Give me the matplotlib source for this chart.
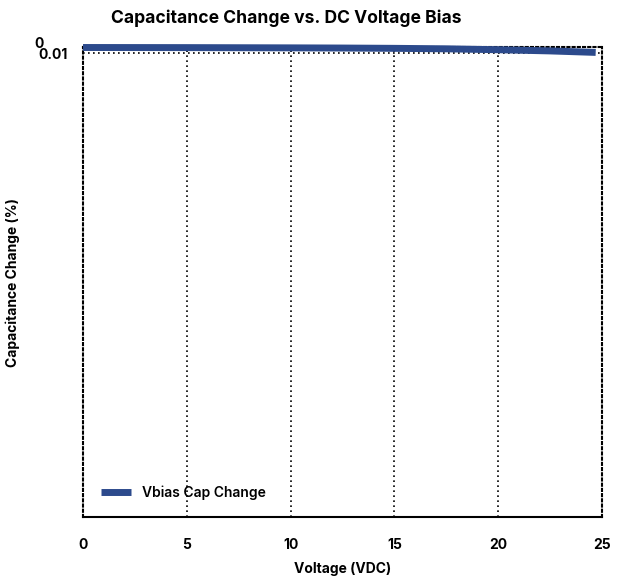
import matplotlib
matplotlib.use("Agg")
import matplotlib.pyplot as plt
import matplotlib.transforms as mtransforms

# capacitance change (magnitude, %) vs DC bias voltage
voltage = [0, 2.5, 5, 7.5, 10, 12.5, 15, 17.5, 20, 22.5, 24.7]
cap_change = [0.0003, 0.0004, 0.0005, 0.0007, 0.0009, 0.0012, 0.0017, 0.0025, 0.0040, 0.0060, 0.0085]

x_ticks = [0, 5, 10, 15, 20, 25]
y_ticks = [0, 0.01]
y_tick_labels = ["0", "0.01"]

LINE_COLOR = "#2c4a8c"

plt.rcParams["font.family"] = ["Inter", "DejaVu Sans"]

fig = plt.figure(figsize=(6.27, 5.77), dpi=100)
ax = fig.add_axes([0.1324, 0.104, 0.8276, 0.8145])

ax.plot(voltage, cap_change, color=LINE_COLOR, linewidth=5,
        solid_capstyle="butt", label="Vbias Cap Change", clip_on=False, zorder=3)

ax.set_xlim(0, 25)
ax.set_ylim(0.785, -0.0005)

ax.set_xticks(x_ticks)
ax.set_yticks(y_ticks)
ax.set_yticklabels(y_tick_labels)
ax.tick_params(axis="both", length=0, labelsize=10)
ax.tick_params(axis="x", pad=15)
ax.tick_params(axis="y", pad=11)
for lbl in ax.get_xticklabels() + ax.get_yticklabels():
    lbl.set_fontweight("bold")
# the "0" label sits up and left of "0.01" like the original
zero_lbl = ax.get_yticklabels()[0]
zero_lbl.set_transform(zero_lbl.get_transform() +
                       mtransforms.ScaledTranslation(-0.24, 0.05, fig.dpi_scale_trans))

# dotted grid at the inner ticks
for xv in x_ticks[1:-1]:
    ax.axvline(xv, color="black", linestyle=(0, (1, 2)), linewidth=1.2, zorder=1)
ax.axhline(0.01, color="black", linestyle=(0, (1, 2)), linewidth=1.2, zorder=1)

for side in ["top", "right", "left"]:
    ax.spines[side].set_linestyle((0, (1, 1.5)))
    ax.spines[side].set_linewidth(1.5)
ax.spines["bottom"].set_linewidth(1.5)

ax.set_xlabel("Voltage (VDC)", fontsize=10, fontweight="bold")
ax.xaxis.set_label_coords(0.5, -0.096)
ax.set_ylabel("Capacitance Change (%)", fontsize=10, fontweight="bold")
ax.yaxis.set_label_coords(-0.121, 0.5)
fig.text(286 / 627, 1 - 18 / 577, "Capacitance Change vs. DC Voltage Bias",
         fontsize=12.6, fontweight="bold", ha="center", va="center")

leg = ax.legend(loc="lower left", frameon=False, fontsize=10,
                handlelength=2.2, bbox_to_anchor=(0.01, 0.01))
for t in leg.get_texts():
    t.set_fontweight("semibold")

fig.savefig("out.png", dpi=100)
